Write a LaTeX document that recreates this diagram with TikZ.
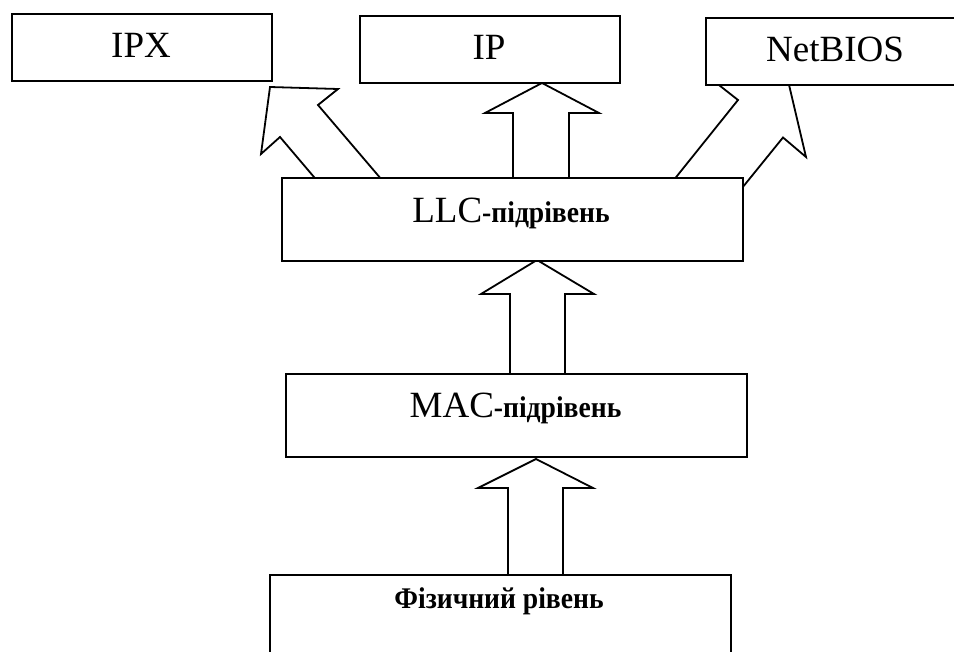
\documentclass[tikz,border=0pt]{standalone}
\usepackage{fontspec}
\setmainfont{Liberation Serif}
\newfontfamily\narrowserif[FakeStretch=0.92]{Liberation Serif}
\newcommand{\bigtxt}{\fontsize{37}{40}\selectfont}
\newcommand{\smalltxt}{\narrowserif\fontsize{30}{33}\selectfont\bfseries}
\begin{document}
\begin{tikzpicture}[x=1pt,y=-1pt,line width=1.8pt,line join=miter,
  box/.style={draw,fill=white,rectangle,inner sep=0pt,anchor=north west},
  blockarrow/.style={draw,fill=white,line join=miter},
  lbl/.style={anchor=base,inner sep=0pt}]
\useasboundingbox (0,0) rectangle (954,652);
\clip (0,0) rectangle (954,652);

% block arrows (drawn first, the boxes cover their feet)
% physical layer -> MAC
\draw[blockarrow] (536,459) -- (593,488) -- (563,488) -- (563,590)
  -- (508,590) -- (508,488) -- (478,488) -- cycle;
% MAC -> LLC
\draw[blockarrow] (537,260) -- (594,294) -- (565,294) -- (565,390)
  -- (510,390) -- (510,294) -- (481,294) -- cycle;
% LLC -> IP
\draw[blockarrow] (542,83) -- (599,113) -- (569,113) -- (569,195)
  -- (513,195) -- (513,113) -- (485,113) -- cycle;
% LLC -> IPX
\draw[blockarrow] (270,87) -- (338,89) -- (318,105) -- (389.3,188.6)
  -- (351.3,221) -- (280,137) -- (261,154) -- cycle;
% LLC -> NetBIOS
\draw[blockarrow] (788.7,83.5) -- (806,157) -- (783,137.5) -- (714.1,222.5)
  -- (668.9,186.1) -- (738,100) -- (713.7,80.9) -- cycle;

% boxes
\node[box,minimum width=260,minimum height=67] (ipx) at (11,13) {};
\node[box,minimum width=260,minimum height=67] (ip) at (359,15) {};
\node[box,minimum width=260,minimum height=67] (netbios) at (705,17) {};
\node[box,minimum width=461,minimum height=83] (llc) at (281,177) {};
\node[box,minimum width=461,minimum height=83] (mac) at (285,373) {};
\node[box,minimum width=461,minimum height=90] (phy) at (269,574) {};

% labels
\node[lbl] (ipxT) at (141,58) {\bigtxt IPX};
\node[lbl] (ipT) at (489,60) {\bigtxt IP};
\node[lbl] (netbiosT) at (835,62) {\bigtxt NetBIOS};
\node[lbl] (llcT) at (511,223) {\bigtxt LLC{\smalltxt -підрівень}};
\node[lbl] (macT) at (515.5,418) {\bigtxt MAC{\smalltxt -підрівень}};
\node[lbl] (phyT) at (499,608) {\smalltxt Фізичний рівень};
\end{tikzpicture}
\end{document}
